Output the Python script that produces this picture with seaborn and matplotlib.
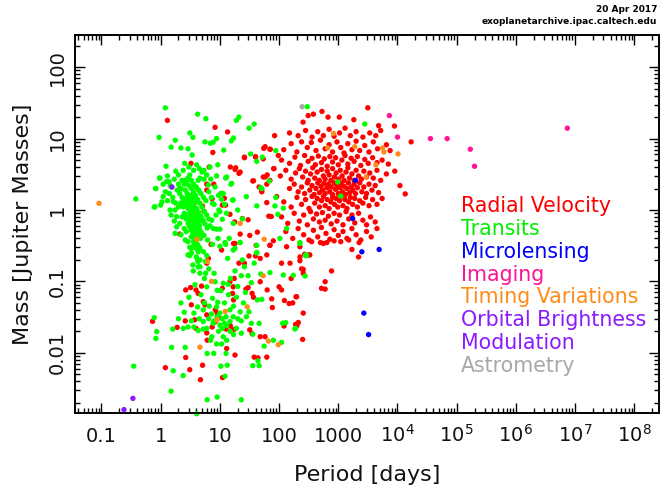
import numpy as np
import pandas as pd
import matplotlib
matplotlib.use("Agg")
import matplotlib.pyplot as plt
import matplotlib.ticker as mticker
import seaborn as sns

# ---------------- data (period [days], mass [Jupiter masses]) ----------------
rv_scatter = [
    (1.3, 18), (8.3, 14.4), (13.5, 12.4), (7.6, 6.4), (26, 5.4), (40, 5.5), (55, 7.3), (71, 7.1), (97, 5.8), (54, 5.2),
    (6.6, 4.0), (15, 4.0), (18, 3.7), (22, 3.4), (36, 2.55), (54, 2.9), (63, 3.1), (81, 3.8), (70, 2.6), (46, 2.1),
    (51, 1.8), (62, 2.3), (6, 2.3), (6, 1.9), (7.9, 2.3), (10.4, 1.7), (11.9, 1.46), (7.4, 1.44), (11, 1.17), (12.5, 1.17),
    (2.1, 1.95), (5.1, 1.13), (5.4, 0.96), (14.8, 0.87), (24, 0.76), (30, 0.73), (17.8, 0.68), (91, 1.54), (67, 0.82), (74, 0.81),
    (62, 1.27), (43, 0.49), (22, 0.46), (32, 0.44), (17, 0.34), (7.1, 0.33), (41, 0.32), (70, 0.32), (2.1, 0.46), (3.25, 4.5),
    (254, 17), (310, 21), (380, 22), (530, 24), (670, 20), (1040, 20), (1830, 18.4), (3150, 27), (4800, 15.2), (8900, 15),
    (17000, 9.0), (13500, 1.68), (84, 11), (58, 7.7), (70, 7.1), (26, 5.5), (40, 5.6), (82, 3.8), (58, 2.9), (37, 2.57),
    (51, 1.9), (21, 3.26), (18.5, 3.9),
]
rv_low = [
    (0.73, 0.0276), (1.2, 0.0062), (3.1, 0.0058), (4.7, 0.0042), (5.1, 0.0067), (11.1, 0.0045), (2.65, 0.0086), (1.9, 0.0227), (2.6, 0.028), (3.3, 0.047),
    (3.75, 0.029), (3.95, 0.022), (6, 0.034), (8.4, 0.04), (9, 0.036), (9.5, 0.031), (8.2, 0.027), (6, 0.019), (5.25, 0.052), (5.6, 0.047),
    (2.65, 0.076), (3.95, 0.076), (4.3, 0.068), (4.9, 0.086), (3.2, 0.082), (6.1, 0.015), (16.8, 0.084), (16.4, 0.068), (17, 0.055), (14.8, 0.099),
    (17.5, 0.11), (11, 0.08), (27.6, 0.078), (30, 0.082), (35, 0.068), (37, 0.06), (48, 0.099), (63, 0.076), (75, 0.057), (77, 0.043),
    (123, 0.054), (148, 0.049), (100, 0.084), (110, 0.076), (198, 0.061), (256, 0.036), (250, 0.0154), (121, 0.0237), (190, 0.025), (58, 0.0168),
    (48, 0.0168), (32, 0.021), (35, 0.0185), (18, 0.0215), (16, 0.021), (12.7, 0.0215), (15, 0.024), (7.4, 0.023), (13, 0.0115), (18, 0.0093),
    (38, 0.0087), (44, 0.0085), (62, 0.0087), (6, 0.18), (6.4, 0.21), (10.7, 0.275), (18, 0.34), (26, 0.18), (21, 0.18), (31, 0.227),
    (40, 0.227), (48, 0.21), (62, 0.235), (70, 0.32), (80, 0.37), (134, 0.306), (225, 0.306), (110, 0.18), (153, 0.18), (240, 0.15),
    (270, 0.24), (330, 0.235), (355, 0.36), (500, 0.35), (560, 0.34), (640, 0.35), (850, 0.37), (1100, 0.36), (1500, 0.38), (2250, 0.35),
    (1700, 0.28), (2200, 0.22), (225, 0.22), (225, 0.195), (320, 0.235), (256, 0.147), (256, 0.13), (770, 0.14), (600, 0.099),
    (520, 0.08), (600, 0.078), (160, 0.11), (193, 0.061), (170, 0.05), (211, 0.0266), (200, 0.024),
]
rv_core = [
    (150, 12), (210, 11), (280, 13), (360, 10.5), (450, 12.5), (560, 11), (700, 13.5), (850, 10.8), (1050, 12), (1300, 14),
    (1600, 11), (2000, 12.5), (2600, 10.5), (3400, 12), (4300, 11), (5200, 13),
    (120, 7), (160, 8.5), (200, 6.5), (240, 9), (300, 7.5), (350, 8.8), (420, 6.8), (500, 9.5), (600, 7.2), (700, 8.2),
    (800, 6.5), (950, 9), (1100, 7.5), (1250, 6.3), (1450, 8.5), (1700, 7), (2000, 9.2), (2300, 6.8), (2800, 8), (3300, 6.5),
    (3900, 9), (4600, 7.2), (6500, 8.2), (7500, 6.8),
    (110, 5), (150, 4.5), (185, 5.5), (230, 4.2), (270, 5.8), (310, 4.8), (360, 5.3), (410, 4.3), (460, 5.7), (520, 4.6),
    (580, 5.2), (650, 4.1), (720, 5.6), (800, 4.7), (900, 5.4), (1000, 4.3), (1150, 5.0), (1300, 5.8), (1450, 4.4), (1650, 5.3),
    (1850, 4.8), (2100, 5.6), (2400, 4.2), (2800, 5.1), (3200, 4.5), (3800, 5.4), (4500, 4.6), (5500, 5.0), (7000, 4.4),
    (105, 3), (130, 3.6), (160, 2.7), (190, 3.3), (220, 3.8), (250, 2.9), (280, 3.5), (310, 2.6), (340, 3.2), (370, 3.9),
    (400, 2.8), (440, 3.4), (480, 2.6), (520, 3.7), (560, 3.0), (600, 2.7), (650, 3.5), (700, 3.1), (750, 2.6), (800, 3.8),
    (860, 2.9), (920, 3.3), (1000, 2.7), (1080, 3.6), (1160, 3.0), (1250, 2.6), (1350, 3.4), (1450, 3.9), (1550, 2.8), (1700, 3.2),
    (1850, 2.6), (2000, 3.6), (2200, 3.0), (2450, 2.7), (2700, 3.5), (3000, 2.9), (3400, 3.3), (3900, 2.8), (4500, 3.6), (5200, 2.6),
    (6500, 3.2), (9000, 3.5), (11000, 2.2),
    (150, 2), (180, 2.3), (210, 1.8), (240, 2.1), (270, 1.7), (300, 2.4), (330, 1.9), (360, 2.2), (390, 1.65), (420, 2.0),
    (450, 2.4), (480, 1.75), (510, 2.15), (540, 1.9), (570, 2.35), (600, 1.7), (640, 2.05), (680, 2.3), (720, 1.8), (760, 2.1),
    (800, 1.65), (850, 2.4), (900, 1.95), (950, 2.2), (1000, 1.7), (1060, 2.05), (1120, 2.35), (1180, 1.8), (1250, 2.15), (1320, 1.65),
    (1400, 2.0), (1480, 2.4), (1560, 1.75), (1650, 2.1), (1750, 1.9), (1850, 2.3), (1950, 1.7), (2100, 2.05), (2300, 2.4), (2500, 1.8),
    (2700, 2.1), (3000, 1.7), (3300, 2.3), (3700, 1.9), (4200, 2.2), (4800, 1.75),
    (120, 1.3), (160, 1.1), (200, 1.5), (240, 1.2), (280, 1.4), (320, 1.05), (360, 1.55), (400, 1.25), (440, 1.45), (480, 1.1),
    (520, 1.35), (560, 1.55), (600, 1.15), (650, 1.4), (700, 1.05), (750, 1.3), (800, 1.5), (860, 1.2), (920, 1.45), (980, 1.1),
    (1050, 1.35), (1120, 1.55), (1200, 1.15), (1300, 1.4), (1400, 1.05), (1500, 1.3), (1600, 1.5), (1750, 1.2), (1900, 1.45), (2100, 1.1),
    (2300, 1.35), (2600, 1.25), (2900, 1.5), (3300, 1.15), (3800, 1.4), (4500, 1.2), (5500, 1.45),
    (110, 0.8), (140, 0.65), (180, 0.9), (220, 0.7), (260, 0.85), (300, 0.62), (340, 0.95), (380, 0.75), (430, 0.88), (480, 0.68),
    (540, 0.92), (600, 0.72), (680, 0.82), (760, 0.64), (850, 0.9), (950, 0.7), (1050, 0.85), (1200, 0.62), (1350, 0.95), (1500, 0.75),
    (1700, 0.85), (1900, 0.66), (2200, 0.9), (2600, 0.72), (3000, 0.62), (3500, 0.8), (4200, 0.68),
    (130, 0.5), (170, 0.4), (210, 0.55), (260, 0.45), (320, 0.38), (380, 0.52), (450, 0.42), (520, 0.57), (620, 0.47), (720, 0.39),
    (850, 0.53), (1000, 0.44), (1200, 0.5), (1400, 0.4), (1700, 0.55), (2000, 0.45), (2400, 0.38), (3000, 0.5), (3600, 0.42), (4500, 0.55),
]
tr_giant = [
    (1.2, 27), (4.2, 22), (5.8, 19), (19, 18), (21, 20), (31, 14), (38, 16), (0.94, 10.4), (1.76, 9.5), (3.1, 12),
    (3.5, 10.4), (5.6, 9.0), (6.9, 8.6), (7.7, 8.9), (8.8, 10), (15.6, 9.3), (17, 10.2), (11.6, 6.9), (1.5, 7.6), (2.2, 7.4),
    (2.9, 7.2), (3.4, 5.9), (33, 6.1), (42, 4.8), (52, 5.5), (88, 6.8), (300, 28), (2800, 16), (1.23, 4.1), (1.8, 3.5),
    (2.55, 4.5), (4.05, 4.3), (5.4, 3.6), (6.8, 4.0), (9.2, 4.3), (5.4, 2.7), (8.8, 3.0), (13, 2.9), (15.8, 2.36), (0.97, 2.8),
    (0.83, 2.0), (0.8, 1.11), (1.0, 1.17), (0.38, 1.43), (1.26, 2.5), (1.53, 2.1), (2.57, 2.6), (3.1, 3.1), (4.3, 2.6), (6.4, 2.24),
    (8.3, 2.1), (10.7, 1.71), (10.7, 1.41), (7.5, 1.24), (16.8, 1.38), (28, 1.54), (1.1, 1.54), (1.63, 1.31), (2.4, 1.11), (1.75, 1.0),
    (1.44, 1.0), (1.86, 0.81), (2.57, 0.85), (7.3, 0.72), (8.6, 0.85), (10, 0.95), (10, 0.54), (16.8, 0.65), (16.8, 0.275), (13.5, 0.21),
    (11, 0.74), (12.5, 0.33), (14.4, 0.4), (8.8, 0.54), (9.3, 0.4), (1.86, 0.58), (1.75, 0.47), (51, 2.0), (42, 1.14), (12.5, 2.8),
    (15.4, 2.3), (11.4, 1.7), (9.6, 1.0), (4.6, 2.8), (0.82, 2.0), (1.38, 2.5), (0.78, 1.1), (0.96, 2.8), (980, 2.47), (1100, 1.57),
    (68, 2.55), (49, 2.05), (88, 1.5), (85, 1.14), (118, 1.06), (95, 0.87), (134, 0.55), (103, 0.4), (225, 0.35), (280, 0.23),
    (42, 0.255), (22, 0.35), (18, 0.29), (16.4, 1.38),
]
tr_core = [
    (2.6, 1.9), (2.8, 1.7), (3.0, 1.5), (3.2, 1.3), (3.4, 1.1), (3.6, 0.95), (3.8, 0.85), (4.0, 0.75), (4.2, 0.68), (4.5, 0.6),
    (2.7, 1.2), (2.9, 1.05), (3.1, 0.9), (3.3, 0.8), (3.5, 0.7), (3.7, 0.62), (3.9, 0.55), (4.1, 0.5), (4.4, 0.45), (4.7, 0.4),
    (3.0, 2.2), (3.3, 2.0), (3.6, 1.8), (3.9, 1.6), (4.2, 1.4), (4.6, 1.25), (5.0, 1.1), (5.5, 0.95), (6.0, 0.85), (6.5, 0.75),
    (2.5, 0.9), (2.7, 0.75), (2.9, 0.65), (3.1, 0.58), (3.3, 0.52), (3.5, 0.46), (3.7, 0.41), (3.9, 0.37), (4.2, 0.33), (4.5, 0.3),
    (3.2, 1.6), (3.5, 1.45), (3.8, 1.25), (4.1, 1.05), (4.4, 0.92), (4.8, 0.82), (5.2, 0.72), (5.6, 0.64), (6.1, 0.56), (3.4, 0.6),
    (2.3, 1.5), (2.4, 1.3), (2.6, 1.45), (2.8, 1.3), (3.05, 1.2), (3.25, 1.05), (3.45, 0.98), (3.65, 1.1), (3.85, 1.0), (4.05, 0.92),
    (4.3, 0.85), (4.6, 0.78), (4.9, 0.7), (3.0, 0.78), (3.2, 0.7), (3.4, 0.85), (3.6, 0.78), (3.8, 0.7), (4.0, 0.62), (4.3, 0.58),
    (4.6, 0.53), (4.9, 0.48), (3.5, 0.55), (3.7, 0.5), (3.9, 0.45), (4.1, 0.42), (3.3, 0.42), (3.6, 0.36), (3.8, 0.32), (4.0, 0.29),
    (4.3, 0.26), (4.0, 0.22), (4.3, 0.19), (4.6, 0.2), (3.55, 0.31), (3.3, 0.25), (3.1, 0.23), (4.6, 0.16), (4.3, 0.16), (3.55, 0.14),
    (4.6, 0.13), (5.75, 0.13), (2.9, 0.36), (3.3, 0.29), (4.0, 0.33), (4.6, 0.29), (5.3, 0.26), (6.0, 0.23), (3.1, 0.3), (4.2, 0.195),
    (3.5, 0.17), (2.9, 0.235), (2.0, 2.3), (2.2, 2.0), (2.1, 1.7), (1.9, 1.9), (2.3, 2.6), (2.5, 2.3), (2.7, 2.5), (2.9, 2.8),
    (3.3, 2.6), (3.6, 2.3), (4.0, 2.1), (4.4, 1.9), (4.8, 1.7), (5.3, 1.5), (5.8, 1.35), (2.2, 1.25), (2.0, 1.1), (1.8, 1.25),
    (1.6, 1.5), (1.4, 1.7), (1.3, 1.35), (1.2, 1.8), (1.45, 2.2), (1.7, 2.7), (2.0, 3.1), (1.3, 3.0), (1.1, 2.3), (1.05, 1.3),
    (1.5, 0.85), (1.7, 0.7), (2.1, 0.65), (2.3, 0.8), (2.5, 0.55), (2.2, 0.45), (2.7, 0.5), (2.6, 0.38), (6.5, 1.8), (7.2, 1.5),
    (8.0, 1.2), (7.0, 2.7), (6.0, 3.1), (5.0, 3.4), (4.5, 3.8), (3.6, 3.6), (3.0, 4.0), (2.4, 3.6), (12, 1.2), (13, 0.9),
    (9.5, 1.6), (20, 1.0), (24, 0.75), (6.8, 0.6), (7.8, 0.55), (5.4, 0.44), (6.2, 0.38), (7.5, 0.33), (5.7, 0.19),
]
tr_small = [
    (10, 0.31), (12.2, 0.35), (22, 0.35), (24, 0.2), (38, 0.18), (42, 0.25), (118, 0.123), (174, 0.122), (275, 0.119), (290, 0.23),
    (23, 0.12), (70, 0.133), (11.4, 0.094), (8.3, 0.099), (6, 0.084), (10.4, 0.074), (13.8, 0.091), (34, 0.096), (43, 0.055), (7.5, 0.058),
    (9.2, 0.051), (8.8, 0.044), (4.2, 0.044), (5.25, 0.04), (3.65, 0.036), (2.5, 0.037), (2.9, 0.023), (2.4, 0.022), (1.6, 0.0215), (3.65, 0.023),
    (4.3, 0.0205), (5.25, 0.0215), (7.3, 0.0168), (7, 0.015), (8.8, 0.0133), (10.7, 0.0133), (13, 0.015), (11.4, 0.0168), (14.8, 0.0274), (16.8, 0.032),
    (23, 0.028), (34, 0.0258), (46, 0.0258), (23, 0.0188), (36, 0.0182), (80, 0.015), (56, 0.0124), (1.53, 0.0119), (2.6, 0.0119), (0.86, 0.0198),
    (0.83, 0.0159), (0.78, 0.031), (0.35, 0.0065), (1.63, 0.0056), (2.4, 0.0048), (6.1, 0.0098), (7.9, 0.0098), (12.7, 0.0098), (10.4, 0.0065), (13.3, 0.0067),
    (12.2, 0.0047), (36, 0.0066), (46, 0.0066), (44, 0.0077), (1.5, 0.0029), (6.1, 0.0022), (9.0, 0.0024), (23, 0.0022), (4.05, 0.0014), (10, 0.0245),
    (7.7, 0.026), (5.25, 0.0274), (12.7, 0.032), (14.8, 0.04), (22, 0.0375), (31, 0.0375), (51, 0.056), (115, 0.026), (130, 0.0265), (190, 0.022),
    (110, 0.014), (49, 0.127), (42, 0.32), (185, 0.0215), (225, 0.34), (285, 0.235),
    (6.5, 0.03), (7.2, 0.035), (8, 0.028), (9, 0.032), (10, 0.036), (11, 0.03), (12, 0.026), (6, 0.022), (9.5, 0.02), (11, 0.022),
    (13, 0.024), (15, 0.02), (17, 0.018), (19, 0.022), (20, 0.03), (5.5, 0.05), (6.6, 0.045), (12, 0.05), (17, 0.045), (19, 0.06),
    (25, 0.05), (28, 0.032), (4.5, 0.03), (3.3, 0.028), (2.0, 0.03), (4.8, 0.065), (3.0, 0.06), (2.2, 0.05), (27, 0.07), (20, 0.085),
    (15, 0.11), (18, 0.14), (26, 0.16), (30, 0.12), (14, 0.065), (9, 0.075), (5.5, 0.11), (3.8, 0.09), (6.5, 0.15), (8, 0.13),
]
microlensing = [(1950, 2.6), (1750, 0.76), (2500, 0.26), (4900, 0.28), (2700, 0.036), (3250, 0.018)]
imaging = [(7300, 21), (10000, 10.5), (36000, 10), (69000, 10), (170000, 7.1), (200000, 4.1), (7400000, 14)]
timing = [
    (0.091, 1.24), (22, 0.65), (4.1, 0.39), (56, 0.39), (6.2, 0.19), (7.2, 0.1), (54, 0.12), (12.3, 0.038), (9, 0.029), (29, 0.044),
    (4.6, 0.012), (97, 0.013), (66, 0.0146), (830, 11.8), (660, 7.4), (1900, 7.7), (5600, 7.4), (5900, 6.5), (10200, 6.1), (4300, 4.3),
    (2950, 2.9),
]
orbital_brightness = [(0.34, 0.0023), (0.24, 0.0016), (1.55, 2.1)]
astrometry = [(245, 28)]

methods = ["Radial Velocity", "Transits", "Microlensing", "Imaging", "Timing Variations",
           "Orbital Brightness Modulation", "Astrometry"]
colors = ["#ff0000", "#00ff00", "#0000ff", "#ff1493", "#ff8c1a", "#8b1aff", "#a8a8a8"]
legend_lines = ["Radial Velocity", "Transits", "Microlensing", "Imaging", "Timing Variations",
                "Orbital Brightness", "Modulation", "Astrometry"]
legend_colors = ["#ff0000", "#00ee00", "#0000ff", "#ff1493", "#ff8c1a", "#8b1aff", "#8b1aff", "#a8a8a8"]
x_major = [0.1, 1, 10, 100, 1000, 1e4, 1e5, 1e6, 1e7, 1e8]
y_major = [0.01, 0.1, 1, 10, 100]

groups = [
    ("Radial Velocity", rv_scatter + rv_low + rv_core),
    ("Transits", tr_giant + tr_core + tr_small),
    ("Timing Variations", timing),
    ("Microlensing", microlensing),
    ("Imaging", imaging),
    ("Orbital Brightness Modulation", orbital_brightness),
    ("Astrometry", astrometry),
]
rows = []
for name, pts in groups:
    for p, m in pts:
        rows.append({"period": p, "mass": m, "method": name})
df = pd.DataFrame(rows)

# ---------------- plot ----------------
sns.set_theme(style="ticks")
plt.rcParams["font.family"] = ["DejaVu Sans"]
plt.rcParams["mathtext.fontset"] = "dejavusans"

fig = plt.figure(figsize=(6.62, 4.92), dpi=100)
fig.patch.set_facecolor("white")
ax = fig.add_axes([75 / 662, 1 - 413 / 492, 584 / 662, 378 / 492])
ax.set_facecolor("white")

sns.scatterplot(data=df, x="period", y="mass", hue="method", hue_order=methods,
                palette=dict(zip(methods, colors)), s=15, linewidth=0, alpha=1,
                legend=False, ax=ax, clip_on=False)

ax.set_xscale("log")
ax.set_yscale("log")
ax.set_xlim(10 ** -1.447, 10 ** 8.417)
ax.set_ylim(10 ** -2.843, 10 ** 2.451)

ax.xaxis.set_major_locator(mticker.FixedLocator(x_major))
ax.yaxis.set_major_locator(mticker.FixedLocator(y_major))
ax.xaxis.set_minor_locator(mticker.LogLocator(base=10, subs=np.arange(2, 10), numticks=100))
ax.yaxis.set_minor_locator(mticker.LogLocator(base=10, subs=np.arange(2, 10), numticks=100))
ax.xaxis.set_minor_formatter(mticker.NullFormatter())
ax.yaxis.set_minor_formatter(mticker.NullFormatter())


def xfmt(v, pos):
    e = int(round(np.log10(v)))
    if e <= 3:
        return "{:g}".format(v)
    return r"$10^{%d}$" % e


ax.xaxis.set_major_formatter(mticker.FuncFormatter(xfmt))
ax.yaxis.set_major_formatter(mticker.FuncFormatter(lambda v, p: "{:g}".format(v)))

ax.tick_params(which="both", direction="in", top=True, right=True, color="black", width=1.0)
ax.tick_params(which="major", length=7.5)
ax.tick_params(which="minor", length=3.8)
ax.tick_params(axis="x", which="major", labelsize=14, pad=21, labelcolor="#111111")
ax.tick_params(axis="y", which="major", labelsize=14, pad=6, labelrotation=90, labelcolor="#111111")
for lbl in ax.get_xticklabels():
    lbl.set_va("baseline")
for lbl in ax.get_yticklabels():
    lbl.set_va("center")
    lbl.set_ha("right")
for sp in ax.spines.values():
    sp.set_linewidth(1.4)
    sp.set_color("black")

ax.set_xlabel("Period [days]", fontsize=16, color="#111111")
ax.set_ylabel("Mass [Jupiter Masses]", fontsize=16, color="#111111")
ax.xaxis.label.set_va("center")
ax.xaxis.set_label_coords(0.5, (413 - 475) / 378)
ax.yaxis.label.set_va("center")
ax.yaxis.set_label_coords((23 - 75) / 584, 0.5)

# legend as coloured text lines
for i, (txt, col) in enumerate(zip(legend_lines, legend_colors)):
    ax.text((461 - 75) / 584, (413 - (206 + 22.85 * i)) / 378, txt, color=col,
            fontsize=14.8, ha="left", va="center", transform=ax.transAxes)

fig.text(657 / 662, 1 - 10 / 492, "20 Apr 2017", ha="right", va="center",
         fontsize=6.5, fontweight="bold", color="black")
fig.text(657 / 662, 1 - 22 / 492, "exoplanetarchive.ipac.caltech.edu", ha="right", va="center",
         fontsize=6.5, fontweight="bold", color="black")

fig.savefig("out.png", dpi=100, facecolor="white")
